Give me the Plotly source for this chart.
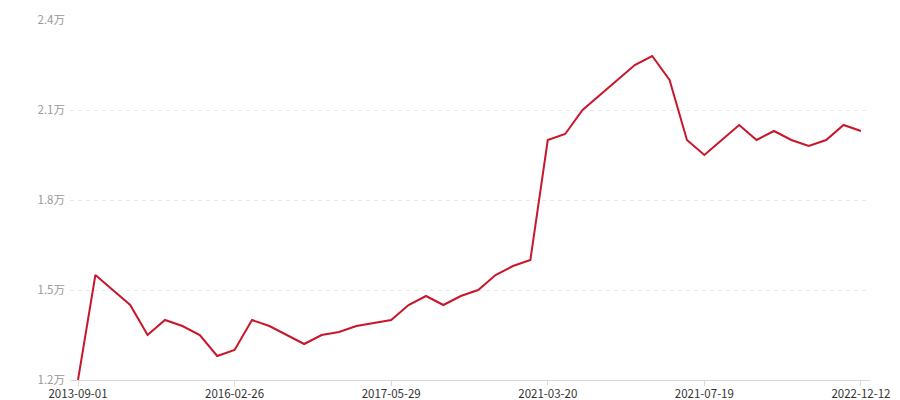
import plotly.graph_objects as go

values = [12000, 15500, 15000, 14500, 13500, 14000, 13800, 13500, 12800, 13000,
          14000, 13800, 13500, 13200, 13500, 13600, 13800, 13900, 14000, 14500,
          14800, 14500, 14800, 15000, 15500, 15800, 16000, 20000, 20200, 21000,
          21500, 22000, 22500, 22800, 22000, 20000, 19500, 20000, 20500, 20000,
          20300, 20000, 19800, 20000, 20500, 20300]
x_index = list(range(len(values)))
x_tick_index = [0, 9, 18, 27, 36, 45]
x_tick_labels = ["2013-09-01", "2016-02-26", "2017-05-29", "2021-03-20", "2021-07-19", "2022-12-12"]
y_tick_values = [12000, 15000, 18000, 21000, 24000]
y_tick_labels = ["1.2万", "1.5万", "1.8万", "2.1万", "2.4万"]

fig = go.Figure(go.Scatter(
    x=x_index, y=values, mode="lines",
    line=dict(color="#c8172c", width=2),
    hoverinfo="y",
))

# page body has an 8px margin, so the figure is offset by 8px
fig.update_layout(
    width=892, height=392,
    margin=dict(l=62, r=30, t=12, b=20, autoexpand=False),
    paper_bgcolor="white", plot_bgcolor="white",
    font=dict(family="Noto Sans CJK SC, Microsoft YaHei, sans-serif", size=12),
    showlegend=False,
)
fig.update_xaxes(
    range=[-0.46, 45.52], automargin=False,
    tickvals=x_tick_index, ticktext=x_tick_labels,
    showgrid=False, zeroline=False,
    showline=True, linecolor="#d9d9d9", linewidth=1,
    ticks="outside", ticklen=5, tickcolor="#d9d9d9",
    tickfont=dict(color="#333333", size=11.5),
    ticklabelstandoff=-2,
)
fig.update_yaxes(
    range=[12000, 24000], automargin=False,
    tickvals=y_tick_values, ticktext=y_tick_labels,
    showgrid=True, gridcolor="#e8e8e8", griddash="4px,4px", gridwidth=1,
    zeroline=False, showline=False,
    tickfont=dict(color="#999999", size=11.5),
    ticks="", ticklabelstandoff=4,
)

fig.write_html("out.html")
